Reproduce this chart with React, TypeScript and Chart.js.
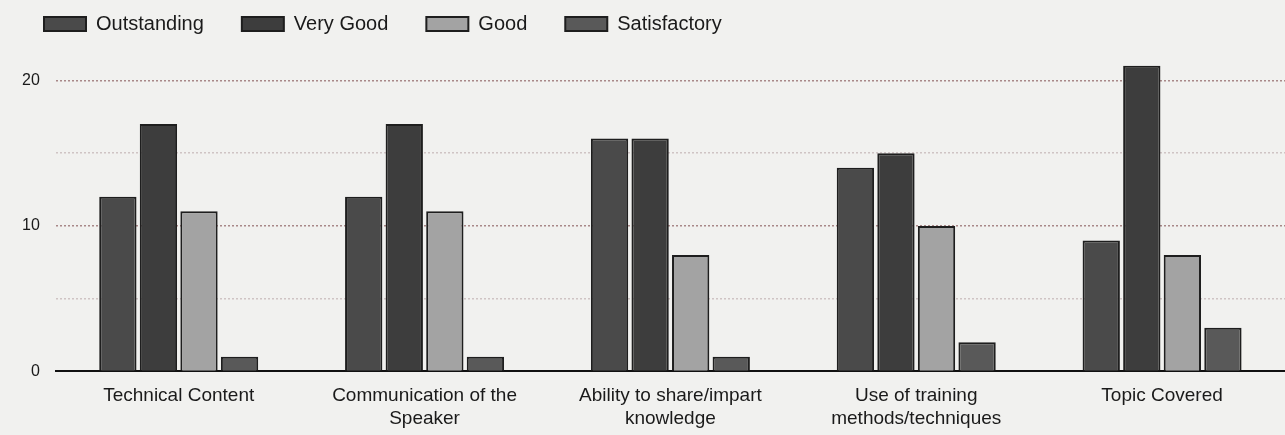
import React, { useEffect, useRef } from "react";
import { Chart, registerables } from "chart.js";

Chart.register(...registerables);

const categories: string[][] = [
  ["Technical Content"],
  ["Communication of the", "Speaker"],
  ["Ability to share/impart", "knowledge"],
  ["Use of training", "methods/techniques"],
  ["Topic Covered"],
];
const outstanding = [12, 12, 16, 14, 9];
const veryGood = [17, 17, 16, 15, 21];
const good = [11, 11, 8, 10, 8];
const satisfactory = [1, 1, 1, 2, 3];
const seriesNames = ["Outstanding", "Very Good", "Good", "Satisfactory"];
const labeledTicks = [0, 10, 20];

export default function App() {
  const ref = useRef<HTMLCanvasElement>(null);
  useEffect(() => {
    document.body.style.margin = "0";
    document.body.style.background = "#f1f1ef";
    const ctx = ref.current!;
    const fills = ["#4a4a4a", "#3d3d3d", "#a3a3a3", "#595959"];
    const series = [outstanding, veryGood, good, satisfactory];
    const chart = new Chart(ctx, {
      type: "bar",
      data: {
        labels: categories,
        datasets: series.map((d, i) => ({
          label: seriesNames[i],
          data: d,
          backgroundColor: fills[i],
          borderColor: "#1e1e1e",
          borderWidth: 2,
          categoryPercentage: 0.66,
          barPercentage: 0.92,
        })),
      },
      options: {
        animation: false,
        responsive: false,
        maintainAspectRatio: false,
        layout: { padding: { left: 6, right: 0, top: -24, bottom: 0 } },
        plugins: {
          legend: {
            align: "start",
            labels: {
              boxWidth: 42,
              boxHeight: 14,
              padding: 38,
              color: "#1a1a1a",
              font: { family: "Liberation Sans", size: 20 },
            },
          },
          tooltip: { enabled: false },
        },
        scales: {
          x: {
            grid: { display: false },
            border: { color: "#111", width: 2 },
            ticks: {
              color: "#1a1a1a",
              font: { family: "Liberation Sans", size: 19 },
              maxRotation: 0,
              autoSkip: false,
              padding: 5,
            },
          },
          y: {
            min: 0,
            max: 22.5,
            border: { display: false, dash: [2, 2] },
            grid: {
              color: (c: any) => {
                const v = c.tick?.value;
                if (v === 10 || v === 20) return "#a88888";
                if (v === 5 || v === 15) return "#cfc4c4";
                return "rgba(0,0,0,0)";
              },
              lineWidth: 1.5,
              drawTicks: false,
            },
            ticks: {
              stepSize: 5,
              color: "#1a1a1a",
              padding: 16,
              font: { family: "Liberation Sans", size: 16 },
              callback: (v: any) => (labeledTicks.includes(Number(v)) ? String(v) : ""),
            },
          },
        },
      },
    });
    return () => chart.destroy();
  }, []);
  return (
    <div style={{ width: 1285, height: 435 }}>
      <canvas ref={ref} width={1285} height={435} />
    </div>
  );
}
